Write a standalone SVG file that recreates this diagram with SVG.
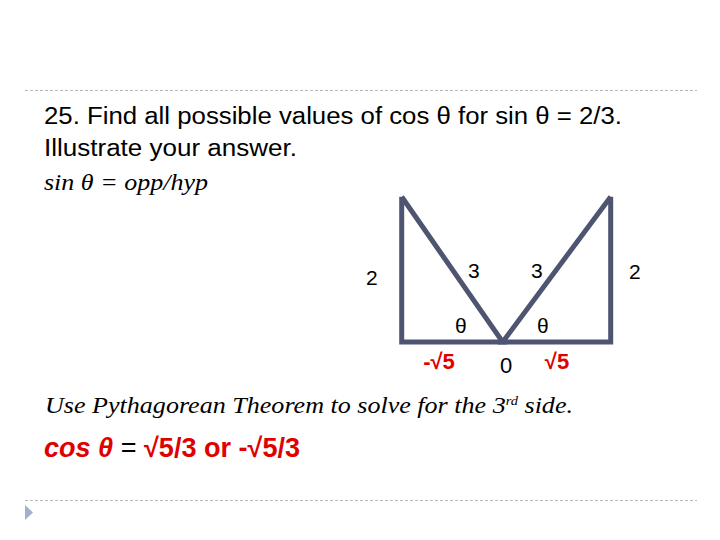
<svg xmlns="http://www.w3.org/2000/svg" width="720" height="540" viewBox="0 0 720 540">
<style>
.sans{font-family:"Liberation Sans",Arial,sans-serif;fill:#000}
.ser{font-family:"Liberation Serif","Times New Roman",serif;font-style:italic;fill:#000}
.red{fill:#e00000;font-weight:bold}
.dash{stroke:#b8b8b8;stroke-width:1;stroke-dasharray:3,2;fill:none}
.edge{stroke:#4f5570;stroke-width:5;fill:none;stroke-linejoin:miter}
</style>
<rect width="720" height="540" fill="#fff"/>
<line class="dash" x1="25" y1="90.5" x2="697" y2="90.5"/>
<line class="dash" x1="25" y1="500.5" x2="697" y2="500.5"/>
<polygon points="25,505 33,512.5 25,520" fill="#9fb2c8"/>
<text class="sans" x="44" y="124" font-size="23.5" textLength="578" lengthAdjust="spacingAndGlyphs">25. Find all possible values of cos θ for sin θ = 2/3.</text>
<text class="sans" x="44" y="156" font-size="23.5" textLength="253" lengthAdjust="spacingAndGlyphs">Illustrate your answer.</text>
<text class="ser" x="44" y="190" font-size="23" textLength="164" lengthAdjust="spacingAndGlyphs">sin θ = opp/hyp</text>
<g id="connectors">
<polyline class="edge" points="401.7,196.7 502.7,342 401.7,342 401.7,196.7"/>
<polyline class="edge" points="610.7,196.7 502.7,342 610.7,342 610.7,196.7"/>
</g>
<g id="labels" class="sans" font-size="21">
<text x="366" y="285">2</text>
<text x="468" y="278">3</text>
<text x="531" y="278">3</text>
<text x="629" y="279">2</text>
<text x="455" y="333">θ</text>
<text x="537" y="333">θ</text>
<text x="500" y="373" font-size="22">0</text>
<text class="red" x="439" y="369" font-size="22" text-anchor="middle">-√5</text>
<text class="red" x="557" y="369" font-size="22" text-anchor="middle">√5</text>
</g>
<text class="ser" x="45" y="413" font-size="23.5" textLength="528" lengthAdjust="spacingAndGlyphs">Use Pythagorean Theorem to solve for the 3<tspan font-size="13" dy="-8">rd</tspan><tspan dy="8"> side.</tspan></text>
<text class="sans" x="44" y="457" font-size="27" textLength="256" lengthAdjust="spacingAndGlyphs"><tspan class="red" font-style="italic">cos θ</tspan> = <tspan class="red">√5/3 or -√5/3</tspan></text>
</svg>
